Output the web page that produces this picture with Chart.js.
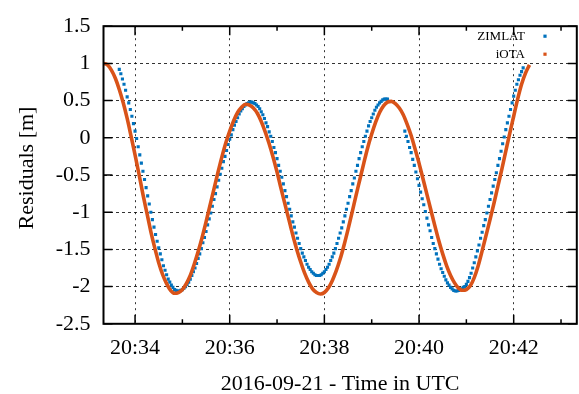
<!DOCTYPE html>
<html>
<head>
<meta charset="utf-8">
<script src="https://cdn.jsdelivr.net/npm/chart.js@4.4.0/dist/chart.umd.min.js"></script>
<style>
  html, body { margin: 0; padding: 0; background: #ffffff; }
  canvas { display: block; }
</style>
</head>
<body>
<canvas id="chart" width="579" height="394"></canvas>
<script>
// Axis texts and ticks
const xTitle = '2016-09-21 - Time in UTC';
const yTitle = 'Residuals [m]';
const xTickLabels = ['20:34', '20:36', '20:38', '20:40', '20:42'];
const yTickValues = [1.5, 1, 0.5, 0, -0.5, -1, -1.5, -2, -2.5];
const timeRange = ['20:33:20', '20:43:20'];

// ZIMLAT residuals, one sample every 2 s (null = no data)
const zimlatLabel = 'ZIMLAT';
const zimlatStart = '20:33:40';
const zimlatStepSec = 2;
const zimlatValues = [
  0.92, 0.86, 0.79, 0.72, 0.64, 0.55,
  0.47, 0.38, 0.29, 0.19, 0.09, -0.01, -0.12, -0.23, -0.34, -0.45,
  -0.56, -0.67, -0.78, -0.89, -1.00, -1.10, -1.20, -1.30, -1.39, -1.48,
  -1.56, -1.64, -1.72, -1.78, -1.84, -1.90, -1.94, -1.98, -2.01, -2.04,
  -2.05, -2.06,
  -2.06, -2.05, -2.04, -2.02, -2.00, -1.97, -1.94, -1.90, -1.85, -1.80,
  -1.75, -1.69, -1.62, -1.56, -1.49, -1.41, -1.34, -1.26, -1.17, -1.09,
  -1.01, -0.92, -0.83, -0.75, -0.66, -0.57, -0.49, -0.41, -0.32, -0.25,
  -0.17, -0.09, -0.02, 0.04, 0.11, 0.17, 0.22, 0.27, 0.32, 0.36,
  0.39, 0.42, 0.44, 0.46, 0.47, 0.48,
  0.48, 0.47, 0.46, 0.44, 0.42, 0.39, 0.35, 0.31, 0.26, 0.20,
  0.15, 0.08, 0.02, -0.05, -0.13, -0.20, -0.28, -0.37, -0.45, -0.53,
  -0.62, -0.71, -0.79, -0.88, -0.96, -1.05, -1.13, -1.20, -1.28, -1.35,
  -1.42, -1.49, -1.55, -1.60, -1.65, -1.70, -1.74, -1.77, -1.80, -1.82,
  -1.84, -1.85,
  -1.85, -1.85, -1.84, -1.82, -1.80, -1.77, -1.74, -1.70, -1.65, -1.60,
  -1.55, -1.49, -1.42, -1.35, -1.28, -1.21, -1.13, -1.05, -0.96, -0.88,
  -0.79, -0.71, -0.62, -0.54, -0.45, -0.37, -0.28, -0.20, -0.12, -0.05,
  0.02, 0.09, 0.16, 0.22, 0.27, 0.32, 0.37, 0.41, 0.44, 0.47,
  0.49, 0.51, 0.52, 0.52, 0.52,
  null, null, null, null, null, null, null, null, null, null,
  0.09, 0.02, -0.05, -0.13, -0.20, -0.29, -0.37, -0.46, -0.55, -0.64,
  -0.73, -0.82, -0.90, -0.99, -1.08, -1.17, -1.25, -1.34, -1.42, -1.49,
  -1.56, -1.63, -1.70, -1.76, -1.81, -1.86, -1.91, -1.95, -1.98, -2.01,
  -2.03, -2.05, -2.06, -2.06,
  -2.05, -2.04, -2.03, -2.01, -2.00, -1.97, -1.93, -1.88, -1.82, -1.75,
  -1.68, -1.60, -1.52, -1.44, -1.35, -1.27, -1.18, -1.10, -1.01, -0.92,
  -0.83, -0.74, -0.65, -0.56, -0.47, -0.37, -0.28, -0.18, -0.08, 0.01,
  0.11, 0.20, 0.29, 0.38, 0.47, 0.56, 0.64, 0.72, 0.78, 0.84,
  0.89, 0.94
];

// iOTA residuals, one sample every 5 s
const iotaLabel = 'iOTA';
const iotaStart = '20:33:20';
const iotaStepSec = 5;
const iotaValues = [
  1.00, 0.98, 0.91, 0.80, 0.65, 0.47, 0.26, 0.02, -0.23, -0.49,
  -0.76, -1.01, -1.26, -1.48, -1.68, -1.84, -1.96, -2.05, -2.09, -2.08,
  -2.04, -1.96, -1.85, -1.70, -1.53, -1.34, -1.13, -0.91, -0.69, -0.47,
  -0.26, -0.07, 0.09, 0.23, 0.34, 0.41, 0.45, 0.44, 0.40, 0.33,
  0.22, 0.08, -0.08, -0.26, -0.46, -0.68, -0.89, -1.10, -1.31, -1.50,
  -1.67, -1.82, -1.94, -2.03, -2.08, -2.10, -2.08, -2.02, -1.92, -1.79,
  -1.63, -1.44, -1.23, -1.01, -0.78, -0.56, -0.34, -0.13, 0.05, 0.21,
  0.34, 0.43, 0.48, 0.49, 0.46, 0.40, 0.31, 0.18, 0.03, -0.15,
  -0.34, -0.55, -0.76, -0.97, -1.18, -1.38, -1.56, -1.72, -1.85, -1.95,
  -2.02, -2.05, -2.04, -1.99, -1.88, -1.72, -1.52, -1.31, -1.10, -0.88,
  -0.65, -0.42, -0.18, 0.06, 0.29, 0.52, 0.72, 0.87, 0.98
];

const BLUE = '#0072BD';
const ORANGE = '#D95319';
const GRID = 'rgba(0,0,0,0.8)';
const SERIF = "'Liberation Serif', 'Times New Roman', serif";

function toSec(hms) {
  const p = hms.split(':').map(Number);
  return p[0] * 3600 + p[1] * 60 + (p[2] || 0);
}
function fmtHM(sec) {
  const h = Math.floor(sec / 3600);
  const m = Math.round((sec - h * 3600) / 60);
  return h + ':' + String(m).padStart(2, '0');
}
function toPoints(start, step, values) {
  const t0 = toSec(start);
  return values
    .map((v, i) => (v === null ? null : { x: t0 + i * step, y: v }))
    .filter(p => p !== null);
}

const xMin = toSec(timeRange[0]);
const xMax = toSec(timeRange[1]);

// Border, inward tick marks, axis titles and key
const decorations = {
  id: 'decorations',
  afterDraw(chart) {
    const { ctx, chartArea: a, scales: { x, y } } = chart;
    ctx.save();
    ctx.strokeStyle = '#000';
    ctx.lineWidth = 1.5;
    ctx.beginPath();
    const majors = xTickLabels.map(toSec);
    for (let t = Math.ceil(xMin / 60) * 60; t <= xMax; t += 60) {
      const px = x.getPixelForValue(t);
      const len = majors.includes(t) ? 9 : 4.5;
      ctx.moveTo(px, a.bottom); ctx.lineTo(px, a.bottom - len);
      ctx.moveTo(px, a.top); ctx.lineTo(px, a.top + len);
    }
    yTickValues.forEach(v => {
      const py = y.getPixelForValue(v);
      ctx.moveTo(a.left, py); ctx.lineTo(a.left + 9, py);
      ctx.moveTo(a.right, py); ctx.lineTo(a.right - 9, py);
    });
    ctx.stroke();
    ctx.lineWidth = 2;
    ctx.strokeRect(a.left, a.top, a.right - a.left, a.bottom - a.top);

    ctx.fillStyle = '#000';
    ctx.font = '22px ' + SERIF;
    ctx.textAlign = 'center';
    ctx.textBaseline = 'alphabetic';
    ctx.fillText(xTitle, (a.left + a.right) / 2, 390);
    ctx.save();
    ctx.translate(33, 168);
    ctx.rotate(-Math.PI / 2);
    ctx.fillText(yTitle, 0, 0);
    ctx.restore();

    // key
    ctx.font = '13px ' + SERIF;
    ctx.textAlign = 'right';
    const rows = [40, 58];
    chart.data.datasets.forEach((ds, i) => {
      ctx.fillStyle = '#000';
      ctx.fillText(ds.label, 525, rows[i]);
      ctx.fillStyle = ds.keyColor;
      ctx.fillRect(543.4, rows[i] - 5.4, 3.2, 3.2);
    });
    ctx.restore();
  }
};

new Chart(document.getElementById('chart'), {
  type: 'scatter',
  data: {
    datasets: [
      {
        label: zimlatLabel,
        keyColor: BLUE,
        data: toPoints(zimlatStart, zimlatStepSec, zimlatValues),
        showLine: false,
        pointStyle: 'rect',
        pointRadius: 2.2,
        pointHoverRadius: 2.2,
        pointBorderWidth: 0,
        backgroundColor: BLUE,
        borderColor: BLUE,
        order: 1
      },
      {
        label: iotaLabel,
        keyColor: ORANGE,
        data: toPoints(iotaStart, iotaStepSec, iotaValues),
        showLine: true,
        borderColor: ORANGE,
        backgroundColor: ORANGE,
        borderWidth: 3.6,
        pointRadius: 0,
        pointHoverRadius: 0,
        cubicInterpolationMode: 'monotone',
        order: 0
      }
    ]
  },
  options: {
    responsive: false,
    animation: false,
    devicePixelRatio: 1,
    events: [],
    layout: { padding: { top: 19.3, right: 2, left: 0, bottom: 0 } },
    plugins: { legend: { display: false }, tooltip: { enabled: false } },
    scales: {
      x: {
        type: 'linear',
        min: xMin,
        max: xMax,
        afterFit(s) { s.height = 70.2; },
        afterBuildTicks(s) { s.ticks = xTickLabels.map(l => ({ value: toSec(l) })); },
        ticks: {
          callback: v => fmtHM(v),
          font: { family: SERIF, size: 22 },
          color: '#000',
          padding: 11,
          maxRotation: 0,
          autoSkip: false
        },
        grid: { color: GRID, lineWidth: 1, drawTicks: false },
        border: { display: false, dash: [2, 4] }
      },
      y: {
        min: -2.5,
        max: 1.5,
        afterFit(s) { s.width = 103.5; },
        afterBuildTicks(s) { s.ticks = yTickValues.map(v => ({ value: v })); },
        ticks: {
          callback: v => String(v),
          font: { family: SERIF, size: 22 },
          color: '#000',
          padding: 13
        },
        grid: { color: GRID, lineWidth: 1, drawTicks: false },
        border: { display: false, dash: [3, 3] }
      }
    }
  },
  plugins: [decorations]
});
</script>
</body>
</html>
